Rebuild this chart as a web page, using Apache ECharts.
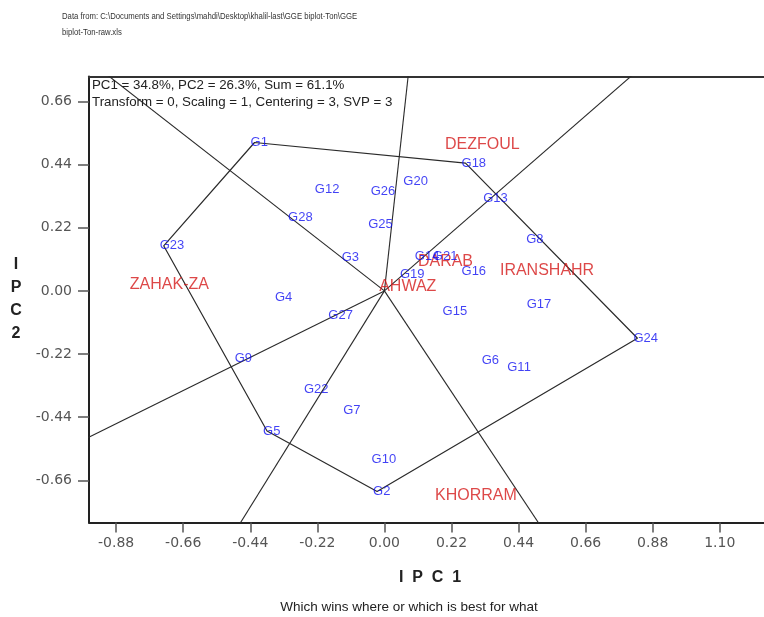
<!DOCTYPE html>
<html>
<head>
<meta charset="utf-8">
<script src="https://cdn.jsdelivr.net/npm/echarts@6/dist/echarts.min.js"></script>
<style>
  html, body { margin: 0; padding: 0; background: #fff; }
  #chart { width: 764px; height: 617px; }
</style>
</head>
<body>
<div id="chart"></div>
<script>
// GGE biplot, "which won where" view: genotype and environment scores on PC1/PC2
const genoNames = ['G1','G2','G3','G4','G5','G6','G7','G8','G9','G10','G11','G12','G13','G14',
                   'G15','G16','G17','G18','G19','G20','G21','G22','G23','G24','G25','G26','G27','G28'];
const genoPC1 = [-0.426,-0.024,-0.127,-0.346,-0.385, 0.332,-0.122, 0.478,-0.478,-0.029, 0.416,-0.215, 0.337, 0.113,
                  0.204, 0.266, 0.480, 0.266, 0.064, 0.075, 0.172,-0.251,-0.724, 0.830,-0.040,-0.032,-0.171,-0.303];
const genoPC2 = [ 0.517,-0.699, 0.117,-0.023,-0.488,-0.243,-0.418, 0.178,-0.237,-0.586,-0.267, 0.354, 0.321, 0.120,
                 -0.072, 0.067,-0.046, 0.445, 0.056, 0.383, 0.120,-0.345, 0.157,-0.165, 0.233, 0.348,-0.087, 0.255];

const envNames = ['AHWAZ','DARAB','DEZFOUL','IRANSHAHR','KHORRAM','ZAHAK-ZA'];
const envPC1 = [-0.004, 0.123, 0.212, 0.392, 0.179,-0.822];
const envPC2 = [ 0.015, 0.102, 0.509, 0.071,-0.714, 0.023];

// vertex genotypes of the convex hull, in drawing order
const hullOrder = ['G1','G18','G24','G2','G5','G23'];

const xTickValues = [-0.88,-0.66,-0.44,-0.22,0.00,0.22,0.44,0.66,0.88,1.10];
const yTickValues = [-0.66,-0.44,-0.22,0.00,0.22,0.44,0.66];

const headerLines = [
  'Data from: C:\\Documents and Settings\\mahdi\\Desktop\\khalil-last\\GGE biplot-Ton\\GGE',
  'biplot-Ton-raw.xls'
];
const infoLines = [
  'PC1 = 34.8%, PC2 = 26.3%, Sum = 61.1%',
  'Transform = 0, Scaling = 1, Centering = 3, SVP = 3'
];

const genoPoint = name => {
  const i = genoNames.indexOf(name);
  return [genoPC1[i], genoPC2[i]];
};

// closed hull outline
const hullPts = hullOrder.map(genoPoint);
const hullData = hullPts.concat([hullPts[0]]);

// rays from the origin perpendicular to each hull edge (clipped by the grid)
const raySeries = hullPts.map((p, k) => {
  const q = hullPts[(k + 1) % hullPts.length];
  const dx = q[0] - p[0], dy = q[1] - p[1];
  let nx = dy, ny = -dx;
  if (nx * p[0] + ny * p[1] < 0) { nx = -nx; ny = -ny; }
  const len = Math.hypot(nx, ny);
  const s = 4 / len;
  return {
    type: 'line',
    data: [[0, 0], [nx * s, ny * s]],
    symbol: 'none',
    silent: true,
    clip: true,
    lineStyle: { color: '#2a2a2a', width: 1.1 },
    z: 2
  };
});

const labelFont = 'Liberation Sans, Arial, sans-serif';
const xMin = -0.969, xMax = 1.268;

const chart = echarts.init(document.getElementById('chart'), null, { renderer: 'canvas' });

chart.setOption({
  animation: false,
  backgroundColor: '#fff',
  grid: {
    left: 89, top: 76.5, width: 682, bottom: 94.5,
    outerBoundsMode: 'none',
    containLabel: false,
    show: false
  },
  xAxis: [
    {
      type: 'value',
      min: xMin, max: xMax,
      name: 'I  P  C  1',
      nameLocation: 'middle',
      nameGap: 47,
      nameTextStyle: { fontFamily: labelFont, fontWeight: 'bold', fontSize: 16, color: '#222' },
      axisLine: { show: true, onZero: false, lineStyle: { color: '#222', width: 2 } },
      axisTick: { show: true, length: 10, customValues: xTickValues, lineStyle: { color: '#555', width: 1.5 } },
      axisLabel: {
        customValues: xTickValues, margin: 14,
        formatter: v => v.toFixed(2),
        fontFamily: 'DejaVu Sans, sans-serif', fontSize: 14, color: '#555'
      },
      splitLine: { show: false }
    },
    {
      // top frame line
      type: 'value', position: 'top',
      min: xMin, max: xMax,
      axisLine: { show: true, onZero: false, lineStyle: { color: '#333', width: 2 } },
      axisTick: { show: false },
      axisLabel: { show: false },
      splitLine: { show: false }
    }
  ],
  yAxis: {
    type: 'value',
    min: -0.807, max: 0.747,
    axisLine: { show: true, onZero: false, lineStyle: { color: '#222', width: 2 } },
    axisTick: { show: true, length: 11, customValues: yTickValues, lineStyle: { color: '#555', width: 1.5 } },
    axisLabel: {
      customValues: yTickValues, margin: 17,
      formatter: v => v.toFixed(2),
      fontFamily: 'DejaVu Sans, sans-serif', fontSize: 14, color: '#555'
    },
    splitLine: { show: false }
  },
  graphic: [
    {
      type: 'text', x: 62, y: 9, scaleX: 0.86,
      style: { text: headerLines.join('\n'), font: '9px Liberation Sans, Arial, sans-serif', fill: '#333', lineHeight: 16 }
    },
    {
      type: 'text', left: 92, top: 77,
      style: { text: infoLines.join('\n'), font: '13.3px Liberation Sans, Arial, sans-serif', fill: '#222', lineHeight: 17 },
      z: 10
    },
    {
      type: 'text', x: 16, y: 299,
      style: {
        text: 'I\nP\nC\n2', font: 'bold 16px Liberation Sans, Arial, sans-serif', fill: '#222',
        align: 'center', verticalAlign: 'middle', lineHeight: 23
      }
    },
    {
      type: 'text', x: 409, y: 607,
      style: {
        text: 'Which wins where or which is best for what', font: '13.5px Liberation Sans, Arial, sans-serif',
        fill: '#222', align: 'center', verticalAlign: 'middle'
      }
    }
  ],
  series: [
    {
      type: 'line',
      data: hullData,
      symbol: 'none',
      silent: true,
      lineStyle: { color: '#2a2a2a', width: 1.2 },
      z: 2
    },
    ...raySeries,
    {
      type: 'scatter',
      data: genoNames.map((n, i) => ({ name: n, value: [genoPC1[i], genoPC2[i]] })),
      symbolSize: 1,
      itemStyle: { color: 'rgba(0,0,0,0)' },
      label: {
        show: true, formatter: '{b}', position: 'inside', align: 'left', offset: [-4, 0],
        fontFamily: labelFont, fontSize: 13, color: '#1212f2'
      },
      z: 5
    },
    {
      type: 'scatter',
      data: envNames.map((n, i) => ({ name: n, value: [envPC1[i], envPC2[i]] })),
      symbolSize: 1,
      itemStyle: { color: 'rgba(0,0,0,0)' },
      label: {
        show: true, formatter: '{b}', position: 'inside', align: 'left', offset: [-4, 0],
        fontFamily: labelFont, fontSize: 16, color: '#d41a1a'
      },
      z: 4
    }
  ]
});
</script>
</body>
</html>
